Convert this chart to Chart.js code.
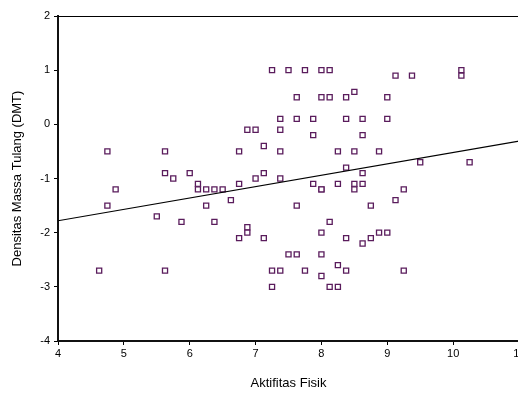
<!DOCTYPE html>
<html>
<head>
<meta charset="utf-8">
<script src="https://cdn.jsdelivr.net/npm/chart.js@4/dist/chart.umd.min.js"></script>
<style>
  html, body { margin: 0; padding: 0; background: #fff; overflow: hidden; }
  #wrap { width: 518px; height: 395px; overflow: hidden; }
</style>
</head>
<body>
<div id="wrap"><canvas id="scatterChart" width="540" height="395"></canvas></div>
<script>
// Data: aktifitas fisik (x) vs densitas massa tulang (y)
const aktifitas = [
  4.625, 4.75, 4.75, 4.875, 5.5, 5.625, 5.625, 5.625, 5.75, 5.875,
  6.0, 6.125, 6.125, 6.25, 6.25, 6.375, 6.375, 6.5, 6.625, 6.75,
  6.75, 6.75, 6.875, 6.875, 6.875, 7.0, 7.0, 7.125, 7.125, 7.125,
  7.25, 7.25, 7.25, 7.375, 7.375, 7.375, 7.375, 7.375, 7.5, 7.5,
  7.625, 7.625, 7.625, 7.625, 7.75, 7.75, 7.875, 7.875, 7.875, 8.0,
  8.0, 8.0, 8.0, 8.0, 8.0, 8.0, 8.125, 8.125, 8.125, 8.125,
  8.25, 8.25, 8.25, 8.25, 8.375, 8.375, 8.375, 8.375, 8.375, 8.5,
  8.5, 8.5, 8.5, 8.625, 8.625, 8.625, 8.625, 8.625, 8.75, 8.75,
  8.875, 8.875, 9.0, 9.0, 9.0, 9.125, 9.125, 9.25, 9.25, 9.375,
  9.5, 10.125, 10.125, 10.25
];
const densitas = [
  -2.7, -0.5, -1.5, -1.2, -1.7, -0.5, -0.9, -2.7, -1.0, -1.8,
  -0.9, -1.1, -1.2, -1.2, -1.5, -1.2, -1.8, -1.2, -1.4, -0.5,
  -1.1, -2.1, -0.1, -1.9, -2.0, -0.1, -1.0, -0.4, -0.9, -2.1,
  1.0, -2.7, -3.0, 0.1, -0.1, -0.5, -1.0, -2.7, 1.0, -2.4,
  0.5, 0.1, -1.5, -2.4, 1.0, -2.7, 0.1, -0.2, -1.1, 1.0,
  0.5, -1.2, -1.2, -2.0, -2.4, -2.8, 1.0, 0.5, -1.8, -3.0,
  -0.5, -1.1, -2.6, -3.0, 0.5, 0.1, -0.8, -2.1, -2.7, 0.6,
  -0.5, -1.1, -1.2, 0.1, -0.2, -0.9, -1.1, -2.2, -1.5, -2.1,
  -0.5, -2.0, 0.5, 0.1, -2.0, 0.9, -1.4, -1.2, -2.7, 0.9,
  -0.7, 1.0, 0.9, -0.7
];
// garis regresi (ujung kiri & kanan)
const regX = [4, 11];
const regY = [-1.78, -0.31];

const xTicks = [4, 5, 6, 7, 8, 9, 10, 11];
const yTicks = [-4, -3, -2, -1, 0, 1, 2];

const points = aktifitas.map((x, i) => ({ x: x, y: densitas[i] }));
const regLine = regX.map((x, i) => ({ x: x, y: regY[i] }));

// garis bingkai atas
const topFrame = {
  id: 'topFrame',
  afterDraw(chart) {
    const { ctx, chartArea } = chart;
    ctx.save();
    ctx.strokeStyle = '#000';
    ctx.lineWidth = 1;
    ctx.beginPath();
    ctx.moveTo(chartArea.left, chartArea.top + 0.5);
    ctx.lineTo(chartArea.right, chartArea.top + 0.5);
    ctx.stroke();
    ctx.restore();
  }
};

const font = { family: 'Liberation Sans, Arial, sans-serif', size: 11 };

new Chart(document.getElementById('scatterChart'), {
  type: 'scatter',
  data: {
    datasets: [
      {
        label: 'Regresi',
        type: 'line',
        data: regLine,
        borderColor: '#000',
        borderWidth: 1.2,
        pointRadius: 0,
        fill: false,
        tension: 0
      },
      {
        label: 'DMT',
        data: points,
        pointStyle: 'rect',
        pointRadius: 3.6,
        pointBorderWidth: 1.3,
        pointBorderColor: '#5a1c5c',
        pointBackgroundColor: '#fff'
      }
    ]
  },
  options: {
    responsive: false,
    animation: false,
    layout: { padding: { top: 16, right: 21, left: 0, bottom: 0 } },
    plugins: { legend: { display: false }, tooltip: { enabled: false } },
    scales: {
      x: {
        type: 'linear',
        min: 4, max: 11,
        afterFit: s => { s.height = 54; },
        afterBuildTicks: s => { s.ticks = xTicks.map(v => ({ value: v })); },
        grid: { display: true, drawOnChartArea: false, tickLength: 4, color: '#000' },
        border: { color: '#111', width: 2 },
        ticks: { color: '#000', font: font, padding: 2, maxRotation: 0 },
        title: {
          display: true,
          text: 'Aktifitas Fisik',
          color: '#000',
          font: { family: font.family, size: 13 },
          padding: { top: 0, bottom: 4 }
        }
      },
      y: {
        type: 'linear',
        min: -4, max: 2,
        afterFit: s => { s.width = 58; },
        afterBuildTicks: s => { s.ticks = yTicks.map(v => ({ value: v })); },
        grid: { display: true, drawOnChartArea: false, tickLength: 4, color: '#000' },
        border: { color: '#111', width: 2 },
        ticks: { color: '#000', font: font, padding: 4 },
        title: {
          display: true,
          text: 'Densitas Massa Tulang (DMT)',
          color: '#000',
          font: { family: font.family, size: 13 },
          padding: { top: 10, bottom: 0 }
        }
      }
    }
  },
  plugins: [topFrame]
});
</script>
</body>
</html>
